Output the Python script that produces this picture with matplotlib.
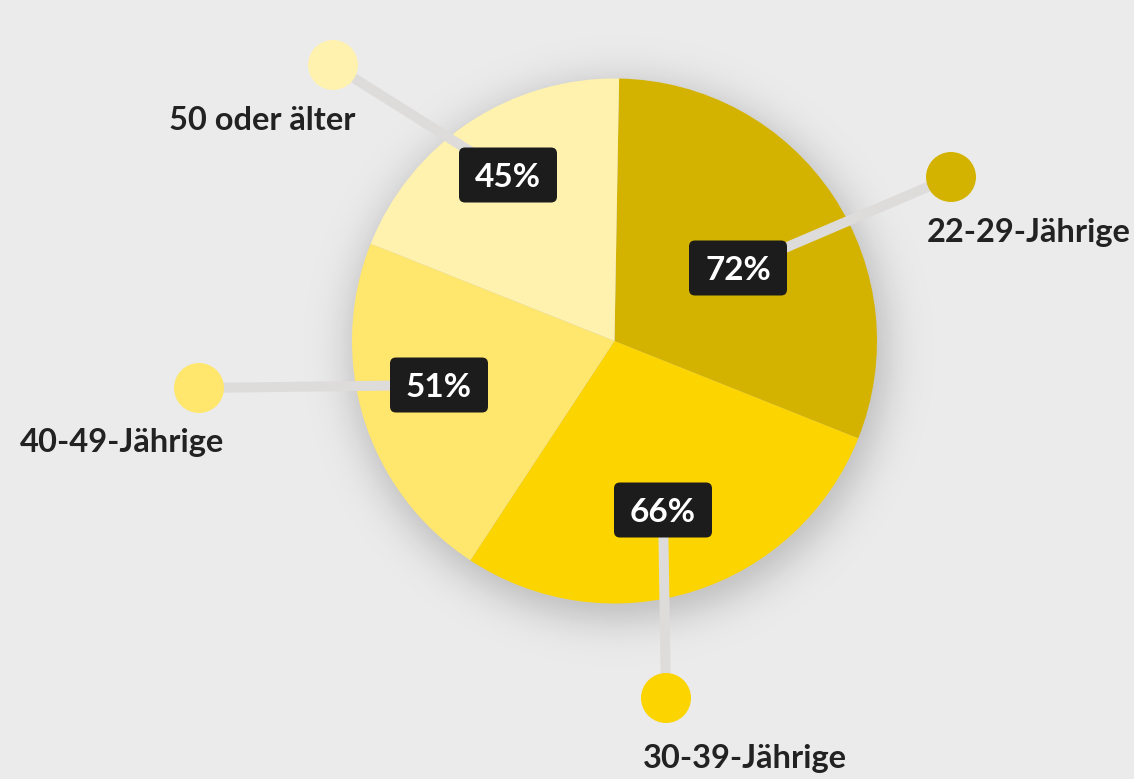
import numpy as np
import matplotlib.pyplot as plt
from matplotlib.patches import Circle, FancyBboxPatch

# data
groups = ['22-29-Jährige', '30-39-Jährige', '40-49-Jährige', '50 oder älter']
values = [72, 66, 51, 45]
colors = ['#D4B300', '#FCD400', '#FFE66D', '#FFF1AE']

# layout (pixel coords, y from top)
W, H = 1134, 779
pie_center = (614.5, 341)
pie_radius = 262.5
box_pos = [(738, 268), (663, 510), (439, 385), (508, 175)]
dot_pos = [(951, 177), (666, 698), (199, 388), (333, 65)]
label_pos = [(927, 242, 'left'), (643, 768, 'left'), (20, 452, 'left'), (355, 130, 'right')]

FONT = 'Lato'
BG = '#EBEBEB'


def fy(y):
    return H - y


fig = plt.figure(figsize=(W / 100, H / 100), dpi=100, facecolor=BG)
ax = fig.add_axes([0, 0, 1, 1])
ax.set_facecolor(BG)

cx, cy = pie_center[0], fy(pie_center[1])

# soft drop shadow, blurred disc slightly below/right of the pie
xx, yy = np.meshgrid(np.arange(W) + 0.5, np.arange(H) + 0.5)
d = np.hypot(xx - (cx + 4), yy - (cy - 10))
a = 0.2 / (1 + np.exp((d - pie_radius - 6) / 12.0))
shadow = np.zeros((H, W, 4))
shadow[..., 3] = a
ax.imshow(shadow, extent=(0, W, 0, H), origin='lower', zorder=0, interpolation='bilinear')

wedges, _ = ax.pie(values, colors=colors, startangle=89, counterclock=False,
                   center=(cx, cy), radius=pie_radius,
                   wedgeprops=dict(linewidth=0))
for w in wedges:
    w.set_zorder(1)

ax.set_xlim(0, W)
ax.set_ylim(0, H)
ax.set_aspect('equal')
ax.axis('off')

bw, bh = 98, 55
for v, c, (bx, by), (dx, dy), (lx, ly, ha), g in zip(values, colors, box_pos, dot_pos, label_pos, groups):
    ax.plot([bx, dx], [fy(by), fy(dy)], color='#DEDBDB', lw=7.2,
            solid_capstyle='butt', zorder=2)
    ax.add_patch(Circle((dx, fy(dy)), 25, color=c, lw=0, zorder=3))
    ax.add_patch(FancyBboxPatch((bx - bw / 2 + 6, fy(by) - bh / 2 + 6), bw - 12, bh - 12,
                                boxstyle='round,pad=6', fc='#1C1C1C', ec='none', zorder=4))
    ax.text(bx, fy(by), f'{v}%', color='white', fontsize=24, fontweight='bold',
            family=FONT, ha='center', va='center_baseline', zorder=5)
    ax.text(lx, fy(ly), g, color='#222222', fontsize=23.5, fontweight='bold',
            family=FONT, ha=ha, va='baseline', zorder=5)

fig.savefig('out.png', dpi=100, facecolor=BG)
